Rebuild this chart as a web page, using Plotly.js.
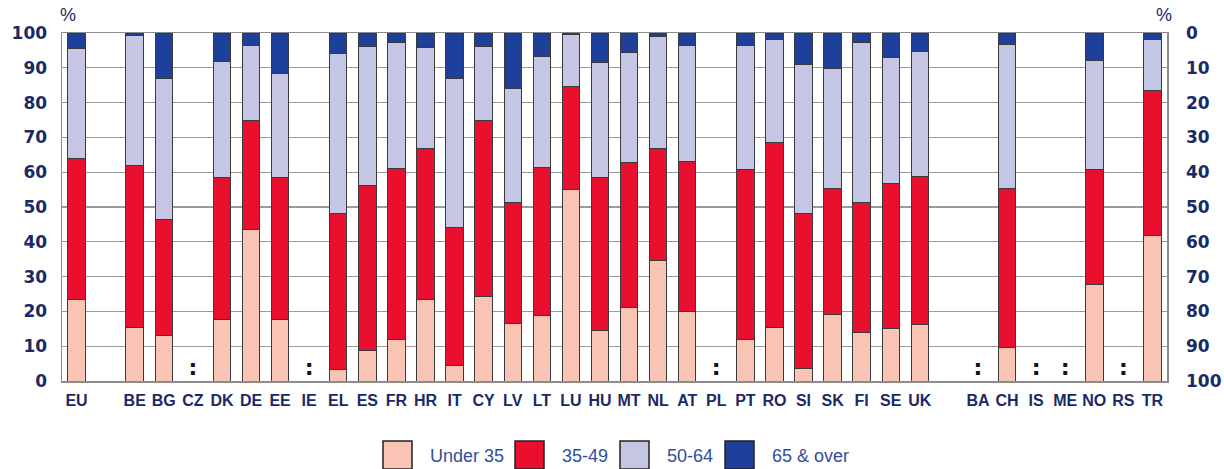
<!DOCTYPE html>
<html>
<head>
<meta charset="utf-8">
<script src="https://cdn.plot.ly/plotly-3.0.1.min.js"></script>
<style>html,body{margin:0;padding:0;background:#fff;}#chart{width:1224px;height:469px;}</style>
</head>
<body>
<div id="chart"></div>
<script>
// Categories ("" = spacer slot)
const categories = ["EU","","BE","BG","CZ","DK","DE","EE","IE","EL","ES","FR","HR","IT","CY","LV","LT","LU","HU","MT","NL","AT","PL","PT","RO","SI","SK","FI","SE","UK","","BA","CH","IS","ME","NO","RS","TR"];
// Series values (% share); null = not available or spacer
const under35 = [23.4,null,15.3,13.2,null,17.6,43.6,17.8,null,3.3,8.9,11.9,23.4,4.4,24.4,16.5,18.7,55.1,14.4,21.0,34.5,20.1,null,11.9,15.5,3.5,19.1,13.8,15.2,16.3,null,null,9.5,null,null,27.7,null,41.9];
const age35_49 = [40.4,null,46.6,33.1,null,40.8,31.4,40.8,null,44.8,47.2,49.2,43.3,39.6,50.6,34.7,42.7,29.4,44.0,41.8,32.4,43.0,null,48.8,52.9,44.7,36.3,37.4,41.5,42.4,null,null,45.8,null,null,33.1,null,41.5];
const age50_64 = [31.7,null,37.4,40.6,null,33.3,21.4,29.8,null,46.1,40.0,36.2,29.0,42.9,21.0,32.9,31.9,15.0,33.2,31.7,32.1,33.4,null,35.7,29.7,42.7,34.4,46.1,36.3,36.1,null,null,41.5,null,null,31.2,null,14.6];
const over65 = [4.5,null,0.7,13.1,null,8.3,3.6,11.6,null,5.8,3.9,2.7,4.3,13.1,4.0,15.9,6.7,0.5,8.4,5.5,1.0,3.5,null,3.6,1.9,9.1,10.2,2.7,7.0,5.2,null,null,3.2,null,null,8.0,null,2.0];
// Countries with no data (shown as ":")
const missing = ["CZ","IE","PL","BA","IS","ME","RS"];
const seriesNames = ["Under 35","35-49","50-64","65 & over"];
const leftTicks = [0,10,20,30,40,50,60,70,80,90,100];

const xs = categories.map((c,i)=>i);
const colors = ["#F9C4B4","#E8102E","#C4C6E4","#1E3F9A"];
const navy = "#1B2A66";
const legendText = "#2F4E9E";
const series = [under35, age35_49, age50_64, over65];

const traces = series.map((vals,k)=>({
  type:"bar", x:xs, y:vals, name:seriesNames[k], width:0.6,
  marker:{color:colors[k], line:{color:"#3a3a3a", width:1}},
  hoverinfo:"x+y", showlegend:false
}));

const missIdx = missing.map(c=>categories.indexOf(c));
traces.push({
  type:"scatter", mode:"text", x:missIdx, y:missIdx.map(()=>3.4),
  text:missIdx.map(()=>":"), showlegend:false, hoverinfo:"skip",
  textfont:{family:"DejaVu Sans, sans-serif", size:22, color:"#111", weight:"bold"}
});
// invisible trace for right axis
traces.push({type:"scatter", x:[0], y:[0], yaxis:"y2", mode:"markers", marker:{opacity:0}, showlegend:false, hoverinfo:"skip"});

// plot frame in pixels (for converting legend layout to paper coords)
const M = {l:62, r:57, t:33, b:88};
const W = 1224, H = 469;
const pw = W - M.l - M.r, ph = H - M.t - M.b;
const px = v => (v - M.l) / pw;
const py = v => (H - M.b - v) / ph;

// custom legend (large swatches like the reference)
const swLeft = [383, 515, 620, 725];
const txtLeft = [428, 560, 665, 770];
const shapes = [], annotations = [];
seriesNames.forEach((n,k)=>{
  shapes.push({type:"rect", xref:"paper", yref:"paper", x0:px(swLeft[k]), x1:px(swLeft[k]+29),
    y0:py(469), y1:py(441), fillcolor:colors[k], line:{color:"#222", width:1.5}});
  annotations.push({xref:"paper", yref:"paper", x:px(txtLeft[k]), y:py(456), xanchor:"left", yanchor:"middle",
    text:n, showarrow:false, font:{family:"Liberation Sans, Arial, sans-serif", size:18, color:legendText}});
});

const tickFont = {family:"DejaVu Sans, sans-serif", size:17, color:navy, weight:"bold"};
annotations.push(
  {xref:"paper", yref:"paper", x:0.005, y:1.0, yshift:6, xanchor:"center", yanchor:"bottom", text:"%", showarrow:false,
    font:{family:"Liberation Sans, Arial, sans-serif", size:18, color:navy}},
  {xref:"paper", yref:"paper", x:0.997, y:1.0, yshift:6, xanchor:"center", yanchor:"bottom", text:"%", showarrow:false,
    font:{family:"Liberation Sans, Arial, sans-serif", size:18, color:navy}}
);

const layout = {
  width:W, height:H,
  margin:{l:M.l, r:M.r, t:M.t, b:M.b, autoexpand:false},
  barmode:"stack",
  paper_bgcolor:"#fff", plot_bgcolor:"#fff",
  showlegend:false,
  xaxis:{range:[-0.5,37.5], tickmode:"array", tickvals:xs, ticktext:categories,
    tickfont:{family:"Liberation Sans, Arial, sans-serif", size:16, color:navy, weight:"bold"},
    showgrid:false, showline:true, linecolor:"#8c8c8c", linewidth:1.5, mirror:true,
    ticks:"", zeroline:false, fixedrange:true, ticklabelstandoff:4},
  yaxis:{range:[0,100], tickmode:"array", tickvals:leftTicks, ticktext:leftTicks.map(String),
    tickfont:tickFont, showgrid:true, gridcolor:"#9a9a9a", gridwidth:1.2,
    showline:true, linecolor:"#8c8c8c", linewidth:1.5, mirror:true, ticks:"", zeroline:false, ticklabelstandoff:10},
  yaxis2:{overlaying:"y", side:"right", range:[100,0], tickmode:"array", tickvals:leftTicks,
    ticktext:leftTicks.map(String), tickfont:tickFont, showgrid:false, zeroline:false,
    showline:false, ticks:"", ticklabelstandoff:18},
  shapes:shapes,
  annotations:annotations
};
Plotly.newPlot("chart", traces, layout, {displayModeBar:false, staticPlot:true});
</script>
</body>
</html>
